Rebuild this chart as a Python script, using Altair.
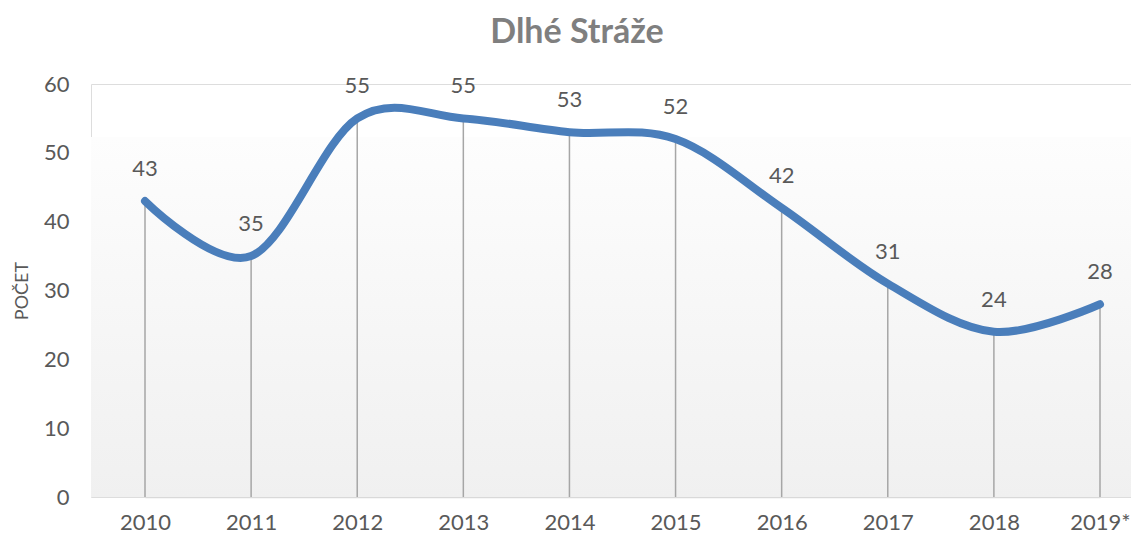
import altair as alt
import pandas as pd

years = ["2010", "2011", "2012", "2013", "2014", "2015", "2016", "2017", "2018", "2019*"]
values = [43, 35, 55, 55, 53, 52, 42, 31, 24, 28]

df = pd.DataFrame({"rok": years, "pocet": values})

W = 1040
H = 413
FONT = "Lato"
GRAY = "#595959"

x_enc = alt.X(
    "rok:O",
    sort=years,
    scale=alt.Scale(type="point", range=[54, 1009], padding=0),
    axis=alt.Axis(
        title=None,
        labelAngle=0,
        labelFontSize=22,
        labelColor=GRAY,
        labelFont=FONT,
        labelPadding=15,
        ticks=False,
        domainColor="#d9d9d9",
        domainWidth=1.5,
        grid=False,
    ),
)
y_enc = alt.Y(
    "pocet:Q",
    scale=alt.Scale(domain=[0, 60], nice=False),
    axis=alt.Axis(
        title="POČET",
        values=[0, 10, 20, 30, 40, 50, 60],
        labelFontSize=22,
        labelColor=GRAY,
        labelFont=FONT,
        labelPadding=22,
        ticks=False,
        domain=False,
        grid=False,
        titleFont=FONT,
        titleFontSize=18,
        titleFontWeight="normal",
        titleColor=GRAY,
        titleAngle=270,
        titleX=-69,
        titleY=H / 2,
        titleAlign="center",
        titleBaseline="middle",
    ),
)

bg = alt.Chart(df).mark_rect(
    color=alt.LinearGradient(
        gradient="linear",
        x1=0, y1=0, x2=0, y2=1,
        stops=[alt.GradientStop(color="#fdfdfd", offset=0),
               alt.GradientStop(color="#f0f0f0", offset=1)],
    )
).encode(
    x=alt.value(0), x2=alt.value(W), y=alt.value(53), y2=alt.value(H)
)

rules = alt.Chart(df).mark_rule(color="#a6a6a6", strokeWidth=1.5).encode(
    x=x_enc, y=y_enc, y2=alt.datum(0)
)

line = alt.Chart(df).mark_line(
    color="#4a7ebb", strokeWidth=8, interpolate="cardinal", tension=0,
    strokeCap="round", strokeJoin="round"
).encode(x=x_enc, y=y_enc)

labels = alt.Chart(df).mark_text(
    dy=-32, fontSize=22, font=FONT, color=GRAY, baseline="middle"
).encode(x=x_enc, y=y_enc, text="pocet:Q")

chart = alt.layer(bg, rules, line, labels).properties(
    width=W,
    height=H,
    autosize=alt.AutoSizeParams(type="none"),
    padding={"left": 83, "top": 76, "right": 0, "bottom": 39},
    title=alt.TitleParams(
        text="Dlhé Stráže",
        font=FONT,
        fontSize=34,
        fontWeight="bold",
        color="#7f7f7f",
        anchor="middle",
        frame="group",
        dx=-34,
        offset=6,
        baseline="middle",
    ),
).configure_view(stroke=None).configure(background="white")

chart.save("out.html", embed_options={"renderer": "svg", "actions": False})
